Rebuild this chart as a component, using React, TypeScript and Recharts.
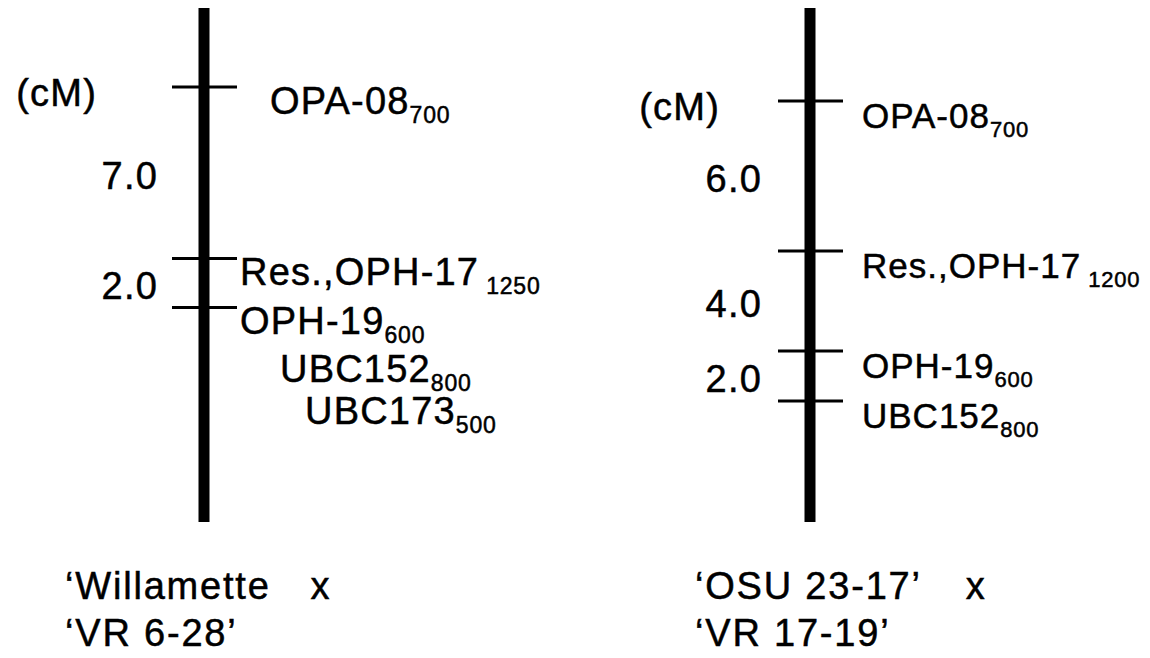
import React from 'react';
import { ComposedChart, Scatter, XAxis, YAxis, ReferenceLine } from 'recharts';

// Willamette x VR 6-28: loci top to bottom, fragment sizes (bp) and cM intervals between them
const willametteLoci = ['OPA-08', 'Res.,OPH-17', 'OPH-19'];
const willametteSizes = ['700', '1250', '600'];
const willametteIntervals = [7.0, 2.0];
// markers that cosegregate with the last locus (OPH-19)
const willametteCoseg = ['UBC152', 'UBC173'];
const willametteCosegSizes = ['800', '500'];

// OSU 23-17 x VR 17-19
const osuLoci = ['OPA-08', 'Res.,OPH-17', 'OPH-19', 'UBC152'];
const osuSizes = ['700', '1200', '600', '800'];
const osuIntervals = [6.0, 4.0, 2.0];

const crossNames = [
  [['\u2018Willamette', 'x'], ['\u2018VR 6-28\u2019']],
  [['\u2018OSU 23-17\u2019', 'x'], ['\u2018VR 17-19\u2019']],
];
const unitLabel = '(cM)';

const FONT = "'Liberation Sans', Arial, Helvetica, sans-serif";
const FS = 38;
const LS = 1.2;
const INK = { fill: '#000', stroke: '#000', strokeWidth: 0.5 };

const mapStyle = [
  { labelDx: [66, 36, 36], cosegDx: [76, 101], labelFs: 38, subFs: 23, labelLs: 1.2,
    intervalDx: -46, unitDx: -107, titleDx: -139, xGap: 40 },
  { labelDx: [52, 52, 52, 52], cosegDx: [], labelFs: 35, subFs: 22, labelLs: 1,
    intervalDx: -48, unitDx: -90, titleDx: -115, xGap: 44 },
];

const cumulative = (iv: number[]) =>
  iv.reduce((acc: number[], d) => [...acc, acc[acc.length - 1] + d], [0]);

const buildLoci = (map: number, names: string[], sizes: string[], intervals: number[]) => {
  const pos = cumulative(intervals);
  return names.map((name, i) => ({ x: map, cM: pos[i], name, size: sizes[i], idx: i, row: 0, tick: true }));
};

const buildCoseg = (map: number, names: string[], sizes: string[], intervals: number[]) => {
  const pos = cumulative(intervals);
  return names.map((name, k) => ({ x: map, cM: pos[pos.length - 1], name, size: sizes[k], idx: k, row: k + 1, tick: false }));
};

const buildIntervals = (map: number, intervals: number[]) => {
  const pos = cumulative(intervals);
  return intervals.map((d, i) => ({ x: map, cM: (pos[i] + pos[i + 1]) / 2, text: d.toFixed(1) }));
};

const leftLoci = [
  ...buildLoci(0, willametteLoci, willametteSizes, willametteIntervals),
  ...buildCoseg(0, willametteCoseg, willametteCosegSizes, willametteIntervals),
];
const rightLoci = buildLoci(1, osuLoci, osuSizes, osuIntervals);
const leftIntervals = buildIntervals(0, willametteIntervals);
const rightIntervals = buildIntervals(1, osuIntervals);
const leftUnit = [{ x: 0, cM: 0 }];
const rightUnit = [{ x: 1, cM: 0 }];

const LocusShape = (props: any) => {
  const { cx, cy, payload } = props;
  const st = mapStyle[payload.x];
  const dx = payload.row === 0 ? st.labelDx[payload.idx] : st.cosegDx[payload.idx];
  const wide = payload.size.length > 3;
  const rowShift = payload.row === 0 ? 0 : 6 + payload.row * 42;
  return (
    <g>
      {payload.tick && (
        <line x1={cx - 32} x2={cx + 33} y1={cy} y2={cy} stroke="#000" strokeWidth={3} />
      )}
      <text
        x={cx + dx}
        y={cy + 27 + rowShift}
        fontFamily={FONT}
        fontSize={st.labelFs}
        letterSpacing={st.labelLs}
        {...INK}
      >
        <tspan>{payload.name}</tspan>
        <tspan dx={wide ? 7 : 0} dy={9} fontSize={st.subFs} letterSpacing={0.8}>{payload.size}</tspan>
      </text>
    </g>
  );
};

const IntervalShape = (props: any) => {
  const { cx, cy, payload } = props;
  return (
    <text x={cx + mapStyle[payload.x].intervalDx} y={cy + 16} textAnchor="end"
      fontFamily={FONT} fontSize={FS} letterSpacing={LS} {...INK}>
      {payload.text}
    </text>
  );
};

const UnitShape = (props: any) => {
  const { cx, cy, payload } = props;
  return (
    <text x={cx + mapStyle[payload.x].unitDx} y={cy + 19} textAnchor="end"
      fontFamily={FONT} fontSize={FS} letterSpacing={LS} {...INK}>
      {unitLabel}
    </text>
  );
};

const CrossTick = (props: any) => {
  const { x, y, payload } = props;
  const i = payload.value;
  const st = mapStyle[i];
  return (
    <g>
      {crossNames[i].map((parts, k) => (
        <text key={k} x={x + st.titleDx} y={y + 77 + k * 47} fontFamily={FONT} fontSize={FS}
          letterSpacing={1.8} {...INK}>
          <tspan>{parts[0]}</tspan>
          {parts[1] && <tspan dx={st.xGap}>{parts[1]}</tspan>}
        </text>
      ))}
    </g>
  );
};

export default function App() {
  return (
    <div style={{ position: 'absolute', left: 0, top: 0, width: 1150, height: 658, background: '#fff' }}>
      <ComposedChart width={1150} height={658} margin={{ top: 8, right: 340, bottom: 6, left: 204 }}>
        <XAxis dataKey="x" type="number" domain={[0, 1]} ticks={[0, 1]} interval={0}
          axisLine={false} tickLine={false} tickSize={0} tickMargin={0} height={130}
          tick={<CrossTick />} />
        <YAxis yAxisId="L" dataKey="cM" type="number" domain={[-3.22, 17.76]} reversed hide />
        <YAxis yAxisId="R" dataKey="cM" type="number" domain={[-3.72, 16.84]} reversed hide />
        <ReferenceLine x={0} yAxisId="L" stroke="#000" strokeWidth={11} />
        <ReferenceLine x={1} yAxisId="R" stroke="#000" strokeWidth={11} />
        <Scatter yAxisId="L" data={leftLoci} shape={<LocusShape />} isAnimationActive={false} />
        <Scatter yAxisId="R" data={rightLoci} shape={<LocusShape />} isAnimationActive={false} />
        <Scatter yAxisId="L" data={leftIntervals} shape={<IntervalShape />} isAnimationActive={false} />
        <Scatter yAxisId="R" data={rightIntervals} shape={<IntervalShape />} isAnimationActive={false} />
        <Scatter yAxisId="L" data={leftUnit} shape={<UnitShape />} isAnimationActive={false} />
        <Scatter yAxisId="R" data={rightUnit} shape={<UnitShape />} isAnimationActive={false} />
      </ComposedChart>
    </div>
  );
}
